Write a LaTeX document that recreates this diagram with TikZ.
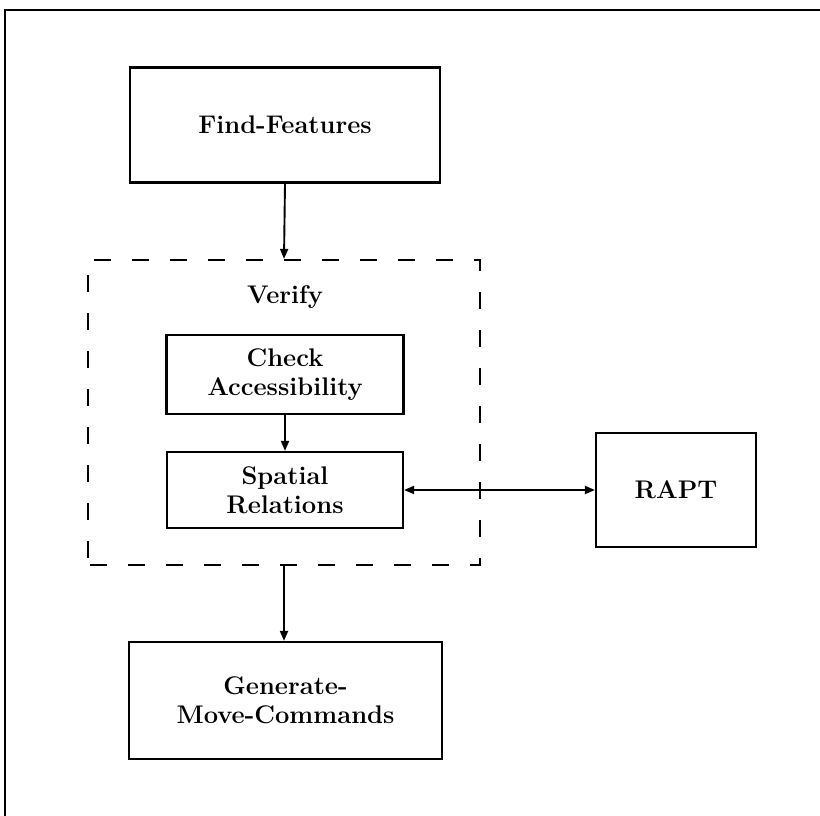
\documentclass[tikz,border=0pt]{standalone}
\usetikzlibrary{arrows.meta}
\begin{document}
\begin{tikzpicture}[x=1pt,y=-1pt,
  lbl/.style={font=\fontsize{25.5}{29}\selectfont\bfseries, align=center},
  procbox/.style={lbl, draw, line width=2.2pt, rectangle, inner sep=0pt},
  groupbox/.style={draw, line width=2.2pt, dash pattern=on 17pt off 21pt, dash phase=-2pt, rectangle, inner sep=0pt},
  flow/.style={line width=1.9pt, -{Triangle[length=10pt,width=8pt]}},
  both/.style={line width=1.9pt, {Triangle[length=10pt,width=8pt]}-{Triangle[length=10pt,width=8pt]}}]
  \useasboundingbox (0,0) rectangle (820,816);

  % page frame (left and top rules)
  \coordinate (fbl) at (5,816);
  \coordinate (ftl) at (5,10);
  \coordinate (ftr) at (820,10);
  \draw[line width=2pt] (fbl) -- (ftl) -- (ftr);

  % processing stages
  \node[procbox, minimum width=310pt, minimum height=115pt] (find) at (285,125) {Find-Features};
  \node[groupbox, minimum width=392pt, minimum height=305pt] (verify) at (284,412.5) {};
  \node[lbl] (vlabel) at (285,297) {Verify};
  \node[procbox, minimum width=237pt, minimum height=79pt] (check) at (285,374.5) {Check\\Accessibility};
  \node[procbox, minimum width=236pt, minimum height=76pt] (spatial) at (285,490) {Spatial\\Relations};
  \node[procbox, minimum width=160pt, minimum height=114pt] (rapt) at (676,490) {RAPT};
  \node[procbox, minimum width=313pt, minimum height=117pt] (gen) at (285.5,700.5) {Generate-\\Move-Commands};

  % connectors
  \draw[flow] (find.south) -- (verify.north);
  \draw[flow] (check.south) -- (spatial.north);
  \draw[flow] (verify.south) -- (verify.south |- gen.north);
  \draw[both] (spatial.east) -- (rapt.west);
\end{tikzpicture}
\end{document}
